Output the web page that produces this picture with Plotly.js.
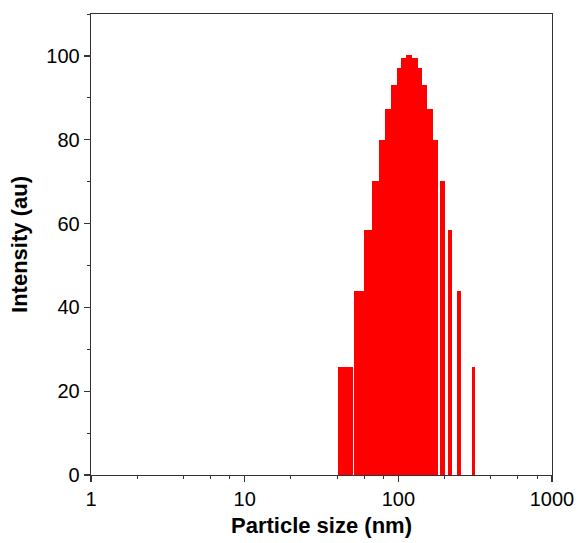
<!DOCTYPE html>
<html>
<head>
<meta charset="utf-8">
<script src="https://cdn.plot.ly/plotly-3.0.1.min.js"></script>
<style>
  html, body { margin: 0; padding: 0; background: #fff; }
  #chart { width: 579px; height: 543px; }
  #chart .barlayer path { shape-rendering: crispEdges; }
</style>
</head>
<body>
<div id="chart"></div>
<script>
// Particle size bins (nm): visible left and right edge of each bar
const binStart = [40.5, 51.5, 59.8, 67.7, 75.2, 82.3, 89.6, 97.6, 104.5, 113.0, 123.3, 133.3, 142.1, 154.3, 168.9, 186.7, 208.9, 241.9, 301.6];
const binEnd   = [50.5, 59.8, 67.7, 75.2, 82.3, 89.6, 97.6, 104.5, 113.0, 123.3, 133.3, 142.1, 154.1, 167.3, 182.0, 201.2, 223.5, 256.9, 315.4];
// Intensity (au)
const intensity = [25.7, 44.0, 58.5, 70.2, 80.0, 87.3, 93.1, 97.1, 99.4, 100.2, 99.4, 97.1, 93.1, 87.3, 80.0, 70.2, 58.5, 44.0, 25.7];

const xTickVals = [1, 10, 100, 1000];
const xTickText = ['1', '10', '100', '1000'];
const xMinorVals = [2, 4, 6, 8, 20, 40, 60, 80, 200, 400, 600, 800];
const yTickVals = [0, 20, 40, 60, 80, 100];

const centers = binStart.map((s, i) => (s + binEnd[i]) / 2);
const widths = binStart.map((s, i) => binEnd[i] - s);

const trace = {
  type: 'bar',
  x: centers,
  y: intensity,
  width: widths,
  marker: { color: '#ff0000', line: { width: 0 } },
  hoverinfo: 'x+y'
};

const axisColor = '#333333';
const layout = {
  width: 579,
  height: 543,
  margin: { l: 91, r: 27, t: 14, b: 68 },
  paper_bgcolor: '#ffffff',
  plot_bgcolor: '#ffffff',
  showlegend: false,
  font: { family: 'Arial, "Liberation Sans", sans-serif', color: '#000000', size: 20 },
  xaxis: {
    type: 'log',
    range: [0, 3],
    tickvals: xTickVals,
    ticktext: xTickText,
    ticks: 'outside',
    ticklen: 6,
    tickwidth: 1.2,
    tickcolor: axisColor,
    showline: true,
    linecolor: axisColor,
    linewidth: 1.3,
    mirror: true,
    showgrid: false,
    zeroline: false,
    tickfont: { size: 20 },
    minor: { tickvals: xMinorVals, ticks: 'outside', ticklen: 3, tickwidth: 1, tickcolor: axisColor, showgrid: false },
    title: { text: '<b>Particle size (nm)</b>', font: { size: 22 }, standoff: 8 }
  },
  yaxis: {
    range: [0, 110],
    tickvals: yTickVals,
    ticks: 'outside',
    ticklen: 6,
    tickwidth: 1.2,
    tickcolor: axisColor,
    showline: true,
    linecolor: axisColor,
    linewidth: 1.3,
    mirror: true,
    showgrid: false,
    zeroline: false,
    tickfont: { size: 20 },
    minor: { dtick: 10, ticks: 'outside', ticklen: 3, tickwidth: 1, tickcolor: axisColor, showgrid: false },
    title: { text: '<b>Intensity (au)</b>', font: { size: 22 }, standoff: 12 }
  }
};

Plotly.newPlot('chart', [trace], layout, { displayModeBar: false, staticPlot: true });
</script>
</body>
</html>
